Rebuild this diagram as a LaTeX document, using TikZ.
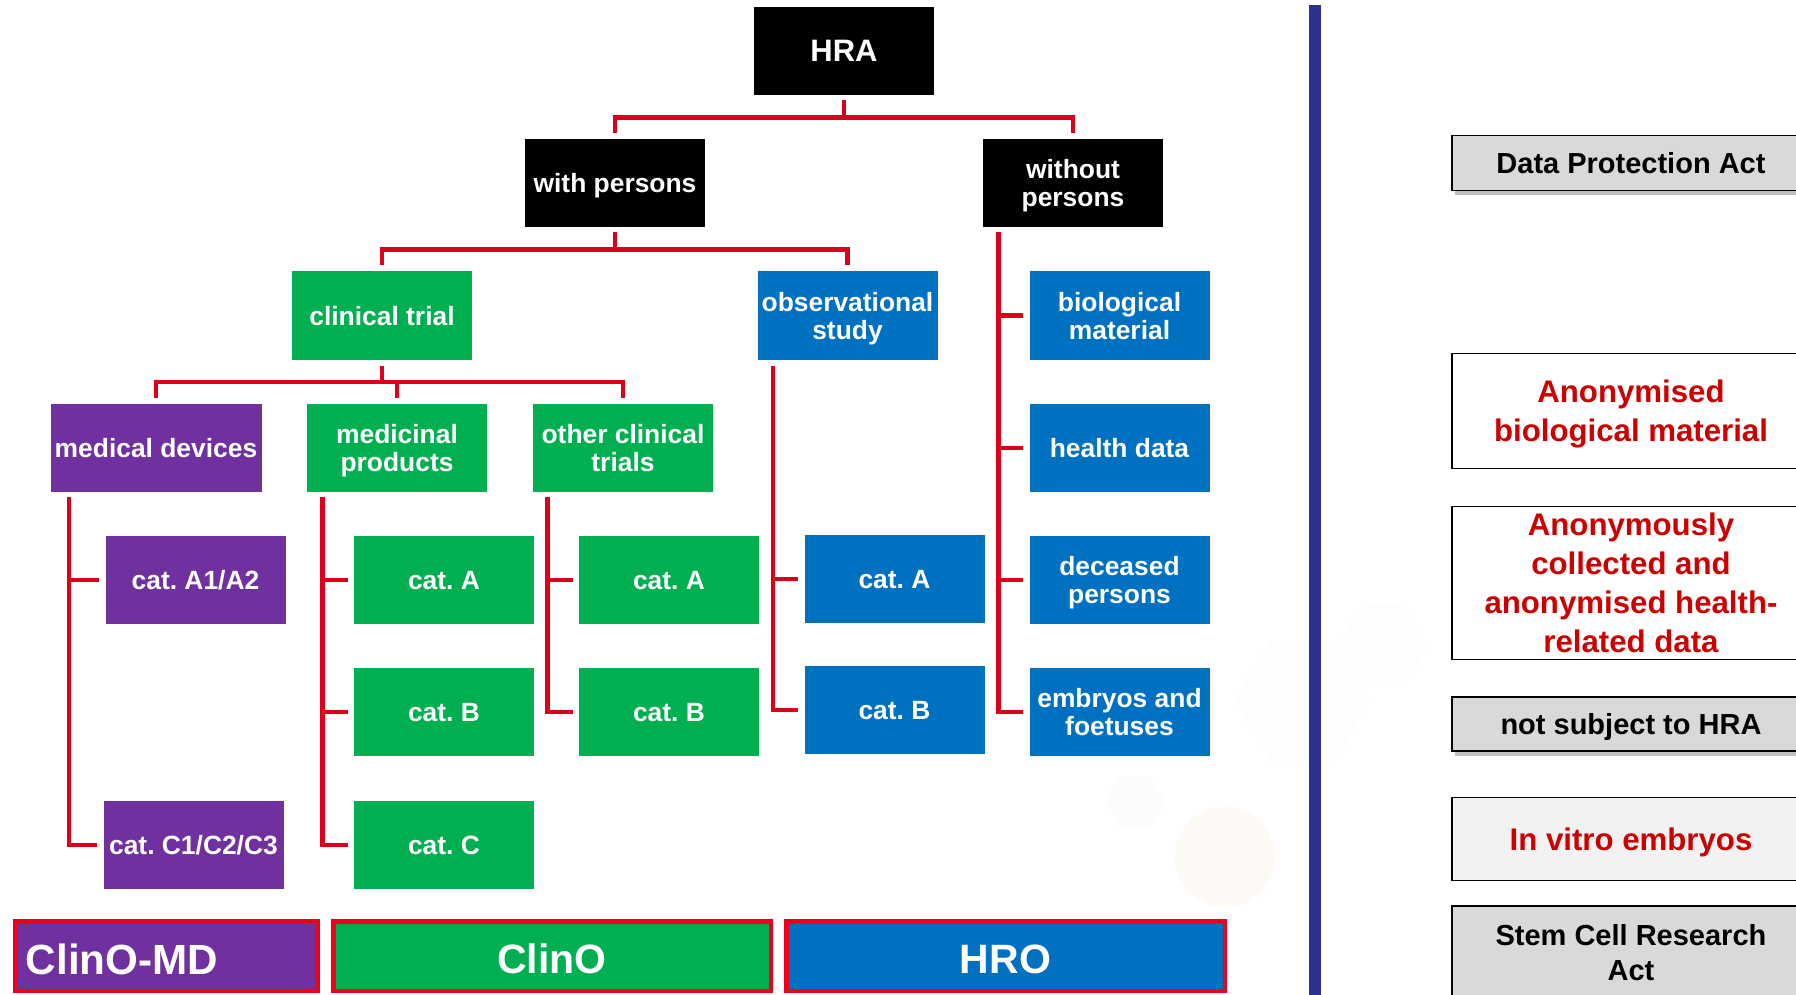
\documentclass[tikz,border=0pt]{standalone}
\usepackage{fontspec}
\setmainfont{Liberation Sans}
\frenchspacing
\usetikzlibrary{calc,shadows}
\definecolor{cpurple}{HTML}{7030A0}
\definecolor{cgreen}{HTML}{00B050}
\definecolor{cblue}{HTML}{0070C0}
\definecolor{cred}{RGB}{220,0,27}
\definecolor{cbar}{RGB}{235,0,30}
\definecolor{ctxt}{RGB}{204,0,0}
\definecolor{cgray}{HTML}{D9D9D9}
\definecolor{clight}{HTML}{F2F2F2}
\definecolor{cdiv}{HTML}{2E3192}
\begin{document}
\begin{tikzpicture}[x=0.5pt,y=-0.5pt,
  cbox/.style={fill=#1, text=white, font=\bfseries\fontsize{13.2}{14}\selectfont, align=center, inner sep=0pt, minimum width=90pt, minimum height=44pt, text depth=0pt},
  conn/.style={draw=cred, line width=2.2pt},
  barbox/.style={fill=#1, draw=cbar, line width=2.25pt, inner sep=0pt, minimum height=34.75pt},
  bartxt/.style={text=white, font=\bfseries\fontsize{20.5}{22}\selectfont, inner sep=0pt},
  rbox/.style={fill=#1, draw=black, line width=0.9pt, align=center, inner sep=0pt, minimum width=179pt},
  graytxt/.style={text=black, font=\bfseries\fontsize{14.5}{17.5}\selectfont},
  redtxt/.style={text=ctxt, font=\bfseries\fontsize{15.6}{19.5}\selectfont},
  shad/.style={drop shadow={shadow xshift=1.5pt, shadow yshift=-2.5pt, opacity=0.25, fill=black}}
]
\useasboundingbox (0,0) rectangle (1796,995);
\clip (0,0) rectangle (1796,995);

% faint background watermark
\fill[orange!40!brown, opacity=0.05] (1225,857) circle (50);
\fill[blue!30, opacity=0.04] (1105,802) -- (1120,776) -- (1150,776) -- (1165,802) -- (1150,828) -- (1120,828) -- cycle;
\fill[gray, opacity=0.02] (1340,645) -- (1362,605) -- (1405,605) -- (1427,645) -- (1405,685) -- (1362,685) -- cycle;
\fill[gray, opacity=0.02] (1235,700) -- (1270,640) -- (1335,640) -- (1370,700) -- (1335,760) -- (1270,760) -- cycle;

% divider
\draw[cdiv, line width=6pt] (1315,5) -- (1315,995);

% tree nodes
\node[cbox=black, font=\bfseries\fontsize{15.5}{17}\selectfont] (hra) at (844,51) {HRA};
\node[cbox=black] (wp) at (615,183) {with persons};
\node[cbox=black] (wop) at (1073,183) {without\\persons};
\node[cbox=cgreen] (ct) at (382,315.5) {clinical trial};
\node[cbox=cblue] (os) at (847.5,315.5) {observational\\study};
\node[cbox=cblue] (bm) at (1119.5,315.5) {biological\\material};
\node[cbox=cpurple, minimum width=105.5pt] (md) at (156,448) {medical devices};
\node[cbox=cgreen] (mp) at (397,448) {medicinal\\products};
\node[cbox=cgreen] (oc) at (623,448) {other clinical\\trials};
\node[cbox=cblue] (hd) at (1119.5,448) {health data};
\node[cbox=cpurple] (a1) at (195.5,580) {cat. A1/A2};
\node[cbox=cgreen] (mpa) at (444,580) {cat. A};
\node[cbox=cgreen] (oca) at (669,580) {cat. A};
\node[cbox=cblue] (osa) at (894.5,579) {cat. A};
\node[cbox=cblue] (dp) at (1119.5,580) {deceased\\persons};
\node[cbox=cgreen] (mpb) at (444,712) {cat. B};
\node[cbox=cgreen] (ocb) at (669,712) {cat. B};
\node[cbox=cblue] (osb) at (894.5,710) {cat. B};
\node[cbox=cblue] (eb) at (1119.5,712) {embryos and\\foetuses};
\node[cbox=cpurple] (c1) at (193.5,845) {cat. C1/C2/C3};
\node[cbox=cgreen] (mpc) at (444,845) {cat. C};

% connectors: top levels
\coordinate (hraJ) at ($(hra.south)+(0,22)$);
\draw[conn] ($(hra.south)+(0,5)$) -- (hraJ);
\draw[conn] ($(wp.north)+(0,-6)$) |- (hraJ) -| ($(wop.north)+(0,-6)$);

\coordinate (wpJ) at ($(wp.south)+(0,22)$);
\draw[conn] ($(wp.south)+(0,5)$) -- (wpJ);
\draw[conn] ($(ct.north)+(0,-6)$) |- (wpJ) -| ($(os.north)+(0,-6)$);

\coordinate (ctJ) at ($(ct.south)+(0,22)$);
\draw[conn] ($(ct.south)+(0,6)$) -- (ctJ);
\draw[conn] ($(md.north)+(0,-6)$) |- (ctJ) -| ($(oc.north)+(0,-6)$);
\draw[conn] ($(mp.north)+(0,-6)$) -- (mp.north |- ctJ);

% trunks
\coordinate (mdT) at ($(md.south west)+(19,5)$);
\draw[conn] (mdT) |- ($(c1.west)+(-6,0)$);
\draw[conn] (mdT |- a1.west) -- ($(a1.west)+(-6,0)$);

\coordinate (mpT) at ($(mp.south west)+(16,5)$);
\draw[conn] (mpT) |- ($(mpc.west)+(-6,0)$);
\draw[conn] (mpT |- mpa.west) -- ($(mpa.west)+(-6,0)$);
\draw[conn] (mpT |- mpb.west) -- ($(mpb.west)+(-6,0)$);

\coordinate (ocT) at ($(oc.south west)+(15,5)$);
\draw[conn] (ocT) |- ($(ocb.west)+(-6,0)$);
\draw[conn] (ocT |- oca.west) -- ($(oca.west)+(-6,0)$);

\coordinate (osT) at ($(os.south west)+(16,6)$);
\draw[conn] (osT) |- ($(osb.west)+(-6,0)$);
\draw[conn] (osT |- osa.west) -- ($(osa.west)+(-6,0)$);

\coordinate (wopT) at ($(wop.south west)+(16,5)$);
\draw[conn] (wopT) |- ($(eb.west)+(-6,0)$);
\draw[conn] (wopT |- bm.west) -- ($(bm.west)+(-6,0)$);
\draw[conn] (wopT |- hd.west) -- ($(hd.west)+(-6,0)$);
\draw[conn] (wopT |- dp.west) -- ($(dp.west)+(-6,0)$);

% bottom bars
\node[barbox=cpurple, minimum width=151.5pt] (clmd) at (166.3,956) {};
\node[barbox=cgreen, minimum width=218.75pt] (clino) at (552,956) {};
\node[barbox=cblue, minimum width=219.25pt] (hro) at (1005.5,956) {};
\node[bartxt, anchor=west, font=\bfseries\fontsize{21.1}{22}\selectfont] (clmdt) at ($(clmd.west)+(13,3)$) {ClinO-MD};
\node[bartxt] (clinot) at ($(clino.center)+(0,3)$) {ClinO};
\node[bartxt] (hrot) at ($(hro.center)+(0,3)$) {HRO};

% right side boxes
\node[rbox=cgray, shad, graytxt, minimum height=27.5pt] (dpa) at (1631,163) {Data Protection Act};
\node[rbox=white, redtxt, minimum height=57.5pt, text depth=0pt] (anb) at (1631,411) {Anonymised\\biological material};
\node[rbox=white, redtxt, minimum height=76.5pt] (anh) at (1631,583) {Anonymously\\collected and\\anonymised health-\\related data};
\node[rbox=cgray, shad, graytxt, minimum height=27pt, text depth=0pt] (nsh) at (1631,724) {not subject to HRA};
\node[rbox=clight, redtxt, minimum height=41.5pt, text depth=0pt] (ive) at (1631,839) {In vitro embryos};
\node[rbox=cgray, shad, graytxt, minimum height=47pt] (scr) at (1631,953) {Stem Cell Research\\Act};
\end{tikzpicture}
\end{document}
